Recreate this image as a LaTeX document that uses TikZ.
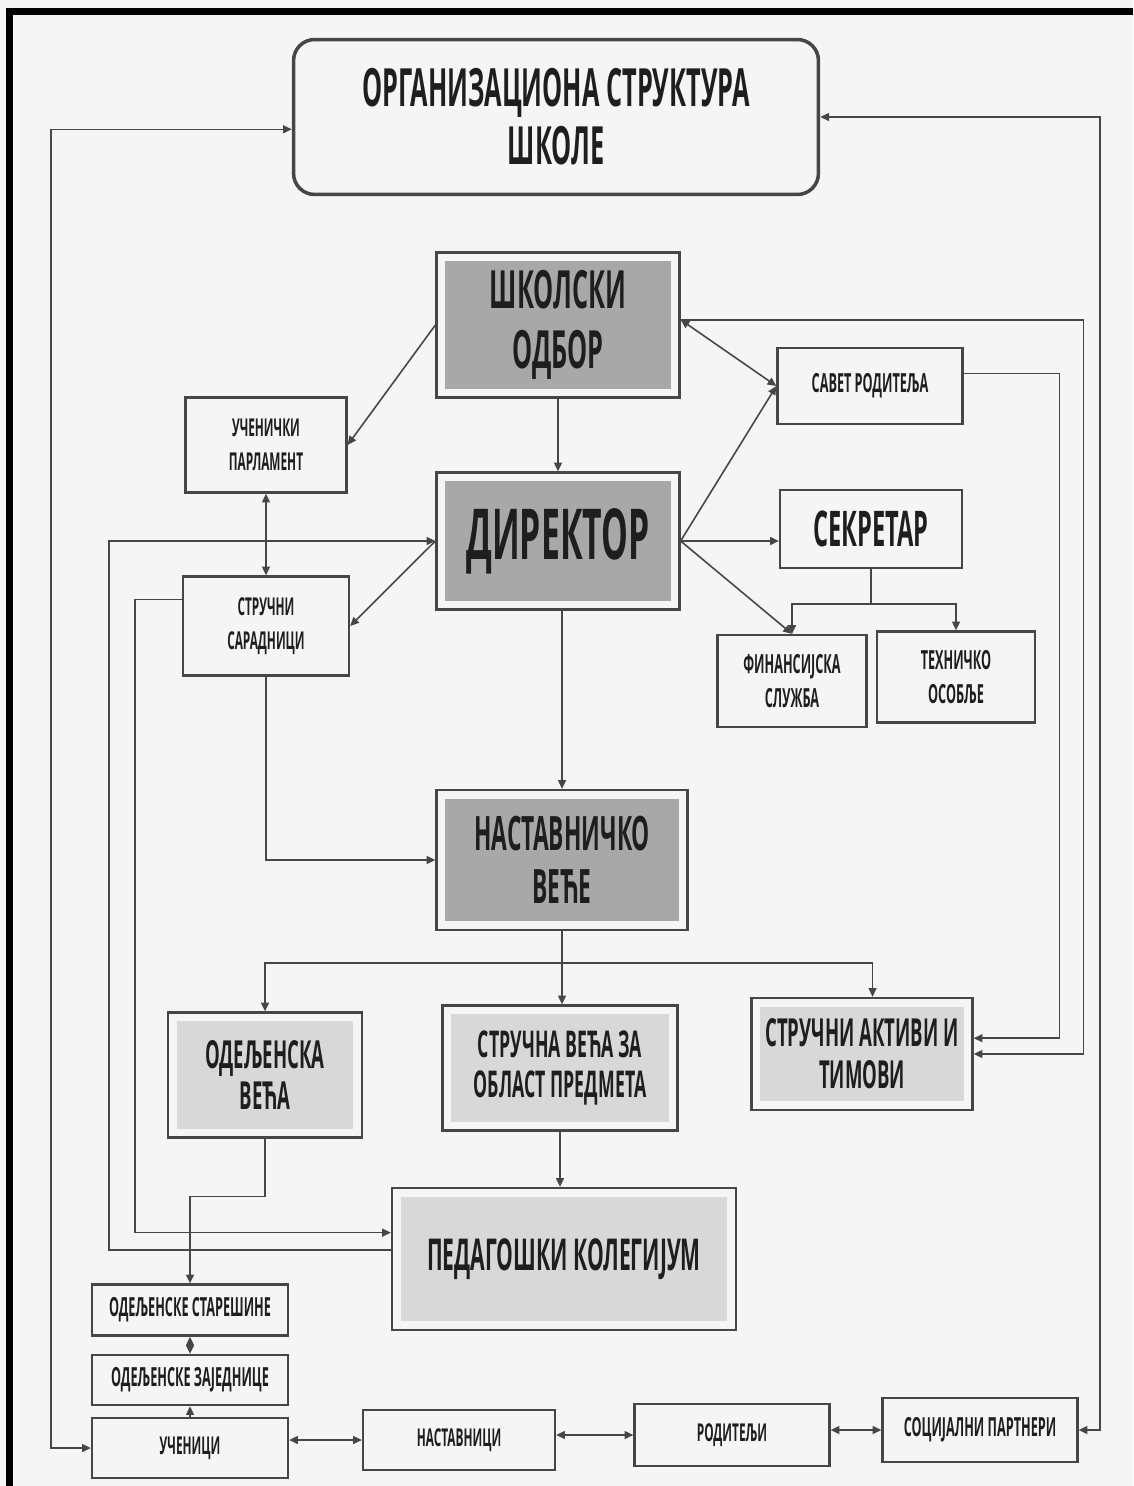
\documentclass[tikz,border=0pt]{standalone}
\usepackage{fontspec}
\setmainfont[FakeStretch=0.48]{Open Sans}
\usepackage{tikz}
\usetikzlibrary{arrows.meta, positioning, calc}
\definecolor{paper}{RGB}{245,245,245}
\definecolor{boardgray}{RGB}{168,168,168}
\definecolor{councilgray}{RGB}{216,216,216}
\definecolor{linegray}{RGB}{70,70,70}
\definecolor{inkgray}{RGB}{30,30,30}

\begin{document}
\begin{tikzpicture}[
    x=0.02cm, y=-0.02cm,
    unit/.style={draw=linegray, line width=1.3pt, fill=paper, align=center, inner sep=0pt, text=inkgray, execute at begin node=\bfseries},
    board/.style={unit, path picture={\fill[boardgray] ([shift={(5pt,-5pt)}]path picture bounding box.north west) rectangle ([shift={(-5pt,5pt)}]path picture bounding box.south east);}},
    council/.style={unit, path picture={\fill[councilgray] ([shift={(5pt,-5pt)}]path picture bounding box.north west) rectangle ([shift={(-5pt,5pt)}]path picture bounding box.south east);}},
    arrow/.style={-{Triangle[length=5pt, width=4.5pt]}, line width=0.9pt, draw=linegray},
    twoway/.style={arrow, {Triangle[length=5pt, width=4.5pt]}-{Triangle[length=5pt, width=4.5pt]}}
]
    % page and frame
    \fill[paper] (0,0) rectangle (1133,1486);
    \fill[black] (6,8) rectangle (1133,15);
    \fill[black] (6,8) rectangle (13,1486);
    \useasboundingbox (0,0) rectangle (1133,1486);

    % Title
    \node[unit, minimum width=10.5cm, minimum height=3.1cm, rounded corners=12pt, line width=2pt, font=\fontsize{30}{33}\selectfont] (title) at (556,117) {ОРГАНИЗАЦИОНА СТРУКТУРА\\ШКОЛЕ};

    % Management
    \node[board, minimum width=4.86cm, minimum height=2.9cm, font=\fontsize{30}{34}\selectfont] (odbor) at (558,325) {ШКОЛСКИ\\ОДБОР};
    \node[board, minimum width=4.86cm, minimum height=2.74cm, font=\fontsize{40}{44}\selectfont] (dir) at (558,541) {ДИРЕКТОР};
    \node[unit, minimum width=3.22cm, minimum height=1.9cm, font=\fontsize{14}{19}\selectfont] (parl) at (266,445) {УЧЕНИЧКИ\\ПАРЛАМЕНТ};
    \node[unit, minimum width=3.32cm, minimum height=1.98cm, font=\fontsize{14}{19}\selectfont] (sarad) at (266,626) {СТРУЧНИ\\САРАДНИЦИ};
    \node[unit, minimum width=3.7cm, minimum height=1.52cm, font=\fontsize{15}{19}\selectfont] (savet) at (870,386) {САВЕТ РОДИТЕЉА};
    \node[unit, minimum width=3.64cm, minimum height=1.56cm, font=\fontsize{28}{30}\selectfont] (sekr) at (871,529) {СЕКРЕТАР};
    \node[unit, minimum width=2.98cm, minimum height=1.84cm, font=\fontsize{15}{19}\selectfont] (fin) at (792,681) {ФИНАНСИЈСКА\\СЛУЖБА};
    \node[unit, minimum width=3.16cm, minimum height=1.82cm, font=\fontsize{15}{19}\selectfont] (teh) at (956,677) {ТЕХНИЧКО\\ОСОБЉЕ};

    % Councils
    \node[board, minimum width=5.02cm, minimum height=2.8cm, font=\fontsize{27}{30}\selectfont] (nv) at (562,860) {НАСТАВНИЧКО\\ВЕЋЕ};
    \node[council, minimum width=3.88cm, minimum height=2.5cm, font=\fontsize{22}{23}\selectfont] (odv) at (265,1075) {ОДЕЉЕНСКА\\ВЕЋА};
    \node[council, minimum width=4.7cm, minimum height=2.5cm, font=\fontsize{21}{23}\selectfont] (sv) at (560,1068) {СТРУЧНА ВЕЋА ЗА\\ОБЛАСТ ПРЕДМЕТА};
    \node[council, minimum width=4.42cm, minimum height=2.24cm, font=\fontsize{22}{24}\selectfont] (akt) at (862,1054) {СТРУЧНИ АКТИВИ И\\ТИМОВИ};
    \node[council, minimum width=6.88cm, minimum height=2.84cm, font=\fontsize{25}{28}\selectfont] (pk) at (564,1259) {ПЕДАГОШКИ КОЛЕГИЈУМ};

    % Bottom row
    \node[unit, minimum width=3.92cm, minimum height=1.02cm, font=\fontsize{15}{18}\selectfont] (star) at (190,1310) {ОДЕЉЕНСКЕ СТАРЕШИНЕ};
    \node[unit, minimum width=3.92cm, minimum height=1cm, font=\fontsize{15}{18}\selectfont] (zaj) at (190,1380) {ОДЕЉЕНСКЕ ЗАЈЕДНИЦЕ};
    \node[unit, minimum width=3.92cm, minimum height=1.2cm, font=\fontsize{14}{18}\selectfont] (uc) at (190,1448) {УЧЕНИЦИ};
    \node[unit, minimum width=3.84cm, minimum height=1.2cm, font=\fontsize{14}{18}\selectfont] (nast) at (459,1440) {НАСТАВНИЦИ};
    \node[unit, minimum width=3.9cm, minimum height=1.24cm, font=\fontsize{14}{18}\selectfont] (rod) at (732,1435) {РОДИТЕЉИ};
    \node[unit, minimum width=3.9cm, minimum height=1.28cm, font=\fontsize{15}{18}\selectfont] (soc) at (980,1430) {СОЦИЈАЛНИ ПАРТНЕРИ};

    % Outer loops
    \draw[twoway] (uc.west) -- ++(-40,0) |- ([yshift=-7pt]title.west);
    \draw[twoway] (title.east) -- ++(280,0) |- (soc.east);

    % Board and director
    \draw[arrow] (odbor.west) -- (parl.east);
    \draw[arrow] (odbor.south) -- (dir.north);
    \draw[twoway] (parl.south) -- (sarad.north);
    \draw[arrow] (dir.west) -- (sarad.east);
    \draw[twoway] ([yshift=3pt]odbor.east) -- (savet.west);
    \draw[arrow] (dir.east) -- (savet.west);
    \draw[arrow] (dir.east) -- (dir.east -| sekr.west);
    \draw[arrow] (dir.east) -- (fin.north);
    \draw[arrow] (sekr.south) -- ++(0,35) -| (fin.north);
    \draw[arrow] (sekr.south) -- ++(0,35) -| (teh.north);

    % Right side
    \draw[arrow] ([yshift=3pt]odbor.east) -- ++(403,0) |- (akt.east);
    \draw[arrow] ([yshift=7pt]savet.east) -- ++(96,0) |- ([yshift=9pt]akt.east);

    % Staff
    \draw[arrow] (sarad.south) |- (nv.west);
    \draw[arrow] ([yshift=15pt]sarad.west) -- ++(-47,0) |- ([yshift=15pt]pk.west);
    \draw[arrow] ([yshift=5pt]pk.west) -- ++(-282,0) |- (dir.west);

    % Councils
    \draw[arrow] (dir.south -| nv.north) -- (nv.north);
    \draw[arrow] (nv.south) -- (nv.south |- sv.north);
    \draw[arrow] (nv.south) -- ++(0,32) -| (odv.north);
    \draw[arrow] (nv.south) -- ++(0,32) -| ([xshift=6pt]akt.north);
    \draw[arrow] (sv.south) -- (sv.south |- pk.north);
    \draw[arrow] (odv.south) -- ++(0,58) -| (star.north);

    % Bottom row
    \draw[twoway] (star.south) -- (zaj.north);
    \draw[arrow] (uc.north) -- (zaj.south);
    \draw[twoway] (nast.west -| uc.east) -- (nast.west);
    \draw[twoway] (rod.west -| nast.east) -- (rod.west);
    \draw[twoway] (soc.west -| rod.east) -- (soc.west);
\end{tikzpicture}
\end{document}
